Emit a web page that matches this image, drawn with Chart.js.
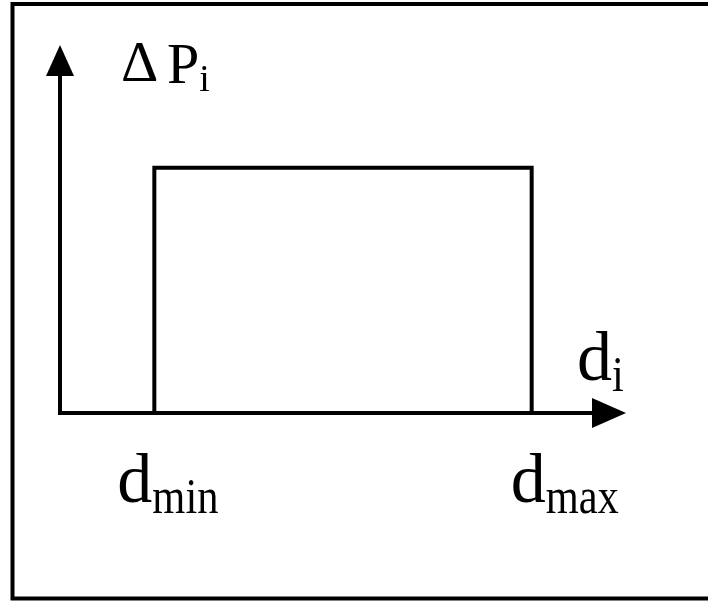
<!DOCTYPE html>
<html>
<head>
<meta charset="utf-8">
<script src="https://cdn.jsdelivr.net/npm/chart.js@4"></script>
<style>
  html, body { margin: 0; padding: 0; background: #fff; }
  canvas { display: block; }
</style>
</head>
<body>
<canvas id="diagram" width="708" height="601"></canvas>
<script>
// Datos del diagrama
const edgeX = [1, 1, 5, 5];          // d_min ... d_max
const edgeY = [0, 1, 1, 0];          // ΔP_i
const tickValues = [1, 5];
const tickNames = [['d', 'min'], ['d', 'max']];
const xTitle = ['d', 'i'];
const yTitle = ['\u0394', 'P', 'i'];

const SERIF = '"Liberation Serif", "DejaVu Serif", serif';

// Texto con subíndice, comprimido un poco en horizontal
function subText(ctx, x, y, main, sub, mainFont, subFont, subDrop, squeeze) {
    ctx.save();
    ctx.fillStyle = '#000';
    ctx.textBaseline = 'alphabetic';
    ctx.textAlign = 'left';
    ctx.font = mainFont;
    ctx.fillText(main, x, y);
    const w = ctx.measureText(main).width;
    ctx.font = subFont;
    ctx.translate(x + w, y + subDrop);
    ctx.scale(squeeze, 1);
    ctx.fillText(sub, 0, 0);
    ctx.restore();
}

const framePlugin = {
    id: 'frame',
    beforeDraw(chart) {
        const c = chart.ctx;
        c.save();
        c.fillStyle = '#fff';
        c.fillRect(0, 0, chart.width, chart.height);
        c.strokeStyle = '#000';
        c.lineWidth = 4;
        c.beginPath();
        c.moveTo(chart.width, 4);
        c.lineTo(12.5, 4);
        c.lineTo(12.5, 598.5);
        c.lineTo(chart.width, 598.5);
        c.stroke();
        c.restore();
    },
    afterDraw(chart) {
        const c = chart.ctx;
        const xs = chart.scales.x;
        const ys = chart.scales.y;
        const x0 = xs.getPixelForValue(0);
        const y0 = ys.getPixelForValue(0);
        const xEnd = xs.right;
        const yEnd = ys.top;

        c.save();
        c.strokeStyle = '#000';
        c.fillStyle = '#000';
        c.lineWidth = 4;
        // eje y
        c.beginPath();
        c.moveTo(x0, y0 + 2);
        c.lineTo(x0, yEnd + 30);
        c.stroke();
        c.beginPath();
        c.moveTo(x0, yEnd);
        c.lineTo(x0 - 14, yEnd + 31);
        c.lineTo(x0 + 14, yEnd + 31);
        c.closePath();
        c.fill();
        // eje x
        c.beginPath();
        c.moveTo(x0 - 2, y0);
        c.lineTo(xEnd - 32, y0);
        c.stroke();
        c.beginPath();
        c.moveTo(xEnd, y0);
        c.lineTo(xEnd - 34, y0 - 15);
        c.lineTo(xEnd - 34, y0 + 15);
        c.closePath();
        c.fill();
        c.restore();

        // etiquetas de d_min y d_max
        const shifts = [-37, -21];
        tickValues.forEach((v, i) => {
            const px = xs.getPixelForValue(v);
            subText(c, px + shifts[i], y0 + 89, tickNames[i][0], tickNames[i][1],
                '70px ' + SERIF, '50px ' + SERIF, 11, 0.85);
        });

        // título del eje x
        subText(c, xEnd - 49, y0 - 33, xTitle[0], xTitle[1],
            '70px ' + SERIF, '50px ' + SERIF, 11, 0.85);

        // título del eje y: Δ P_i
        c.save();
        c.fillStyle = '#000';
        c.textBaseline = 'alphabetic';
        c.font = '58px ' + SERIF;
        c.fillText(yTitle[0], x0 + 61, yEnd + 36);
        c.restore();
        subText(c, x0 + 107, yEnd + 38, yTitle[1], yTitle[2],
            '58px ' + SERIF, '38px ' + SERIF, 8, 1);
    }
};

new Chart(document.getElementById('diagram'), {
    type: 'line',
    data: {
        datasets: [{
            data: edgeX.map((x, i) => ({ x: x, y: edgeY[i] })),
            borderColor: '#000',
            borderWidth: 4,
            borderJoinStyle: 'miter',
            pointRadius: 0,
            tension: 0,
            fill: false,
            clip: false
        }]
    },
    options: {
        responsive: false,
        animation: false,
        events: [],
        layout: { padding: { left: 60, right: 82, top: 45, bottom: 188 } },
        scales: {
            x: { type: 'linear', min: 0, max: 6, display: false },
            y: { type: 'linear', min: 0, max: 1.5, display: false }
        },
        plugins: {
            legend: { display: false },
            tooltip: { enabled: false }
        }
    },
    plugins: [framePlugin]
});
</script>
</body>
</html>
